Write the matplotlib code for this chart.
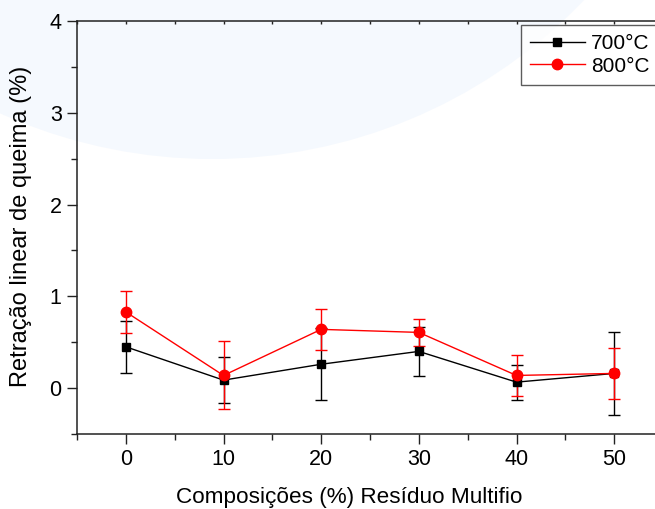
import matplotlib
matplotlib.use("Agg")
import matplotlib.pyplot as plt
from matplotlib.patches import Ellipse
from matplotlib.ticker import MultipleLocator
from matplotlib.transforms import IdentityTransform

plt.rcParams['font.family'] = ['Liberation Sans', 'DejaVu Sans']

composicoes = [0, 10, 20, 30, 40, 50]
ret_700 = [0.45, 0.087, 0.26, 0.40, 0.065, 0.16]
err_700 = [0.28, 0.25, 0.39, 0.27, 0.19, 0.45]
ret_800 = [0.83, 0.138, 0.64, 0.607, 0.138, 0.16]
err_800 = [0.23, 0.37, 0.22, 0.15, 0.22, 0.28]
series_labels = ['700°C', '800°C']

W, H = 655, 509
fig = plt.figure(figsize=(W / 100, H / 100), dpi=100)
fig.patch.set_facecolor('white')

# faint watermark ellipse in the background
ell = Ellipse((212, H + 356), 2 * 515, 2 * 515, transform=IdentityTransform(),
              facecolor='#F5F9FE', edgecolor='none', zorder=-10)
fig.patches.append(ell)

ax = fig.add_axes([77 / W, 1 - 434 / H, (663 - 77) / W, (434 - 21) / H])
ax.patch.set_alpha(0)

ax.errorbar(composicoes, ret_700, yerr=err_700, fmt='none', ecolor='black',
            elinewidth=1, capsize=4, capthick=1, zorder=3)
ax.errorbar(composicoes, ret_800, yerr=err_800, fmt='none', ecolor='red',
            elinewidth=1, capsize=4, capthick=1, zorder=4)
ax.plot(composicoes, ret_700, color='black', marker='s', markersize=5.5,
        linewidth=1, label=series_labels[0], zorder=5)
ax.plot(composicoes, ret_800, color='red', marker='o', markersize=7.5,
        linewidth=1, label=series_labels[1], zorder=6)

ax.set_xlim(-5, 55)
ax.set_ylim(-0.5, 4)
ax.xaxis.set_major_locator(MultipleLocator(10))
ax.xaxis.set_minor_locator(MultipleLocator(5))
ax.yaxis.set_major_locator(MultipleLocator(1))
ax.yaxis.set_minor_locator(MultipleLocator(0.5))

for s in ['left', 'bottom', 'top']:
    ax.spines[s].set_linewidth(1.1)
    ax.spines[s].set_color('#222222')
ax.spines['right'].set_visible(False)

ax.tick_params(axis='both', which='major', direction='out', length=7, width=1,
               labelsize=15.5, pad=4, colors='#222222', labelcolor='black')
ax.tick_params(axis='both', which='minor', direction='out', length=4, width=1,
               colors='#222222')
ax.tick_params(axis='x', which='both', top=True, labeltop=False)
for t in ax.xaxis.get_major_ticks() + ax.xaxis.get_minor_ticks():
    t.tick2line.set_marker(3)
    t.tick2line.set_markersize(2.5)

ax.set_xlabel('Composições (%) Resíduo Multifio', fontsize=16.2)
ax.set_ylabel('Retração linear de queima (%)', fontsize=17)
ax.xaxis.set_label_coords((349 - 77) / 586, -(497 - 434) / 413)
ax.yaxis.set_label_coords(-(77 - 21) / 586, (434 - 226) / 413)
ax.xaxis.label.set_va('center')
ax.yaxis.label.set_va('center')

leg = ax.legend(loc='upper left', bbox_to_anchor=(521 / W, 1 - 25 / H),
                bbox_transform=fig.transFigure, fontsize=15, frameon=True,
                fancybox=False, edgecolor='#333333', handlelength=2.6,
                handletextpad=0.3, borderpad=0.45, labelspacing=0.15,
                borderaxespad=0)
leg.get_frame().set_linewidth(1)

fig.savefig('out.png', dpi=100)
